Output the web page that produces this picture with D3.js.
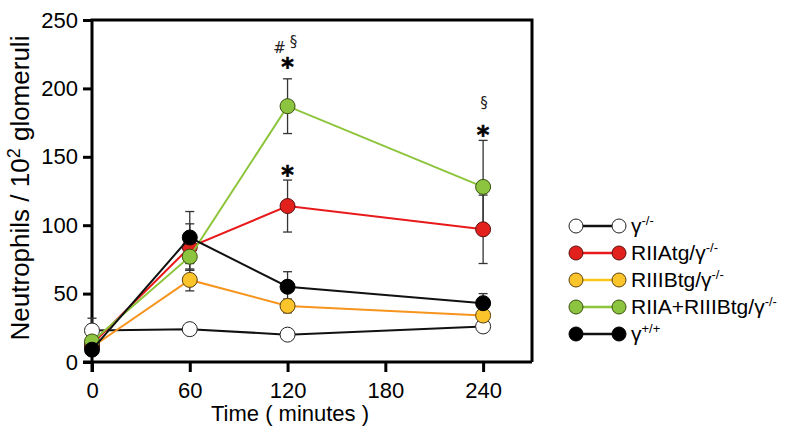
<!DOCTYPE html>
<html><head><meta charset="utf-8">
<script src="https://cdn.jsdelivr.net/npm/d3@7"></script>
<style>body{margin:0;background:#fff}svg{display:block;font-family:"Liberation Sans",Arial,Helvetica,sans-serif}</style>
</head><body><svg id="c" width="800" height="434"></svg>
<script>
const times = [0, 60, 120, 240];
const xTicks = [0, 60, 120, 180, 240];
const yTicks = [0, 50, 100, 150, 200, 250];
const seriesNames = ["γ-/-", "RIIAtg/γ-/-", "RIIIBtg/γ-/-", "RIIA+RIIIBtg/γ-/-", "γ+/+"];
const whiteVals = [23, 24, 20, 26];
const whiteErr = [9, 2, 2, 2];
const redVals = [13, 84, 114, 97];
const redErr = [2, 17, 19, 25];
const orangeVals = [11, 60, 41, 34];
const orangeErr = [2, 8, 5, 3];
const greenVals = [15, 77, 187, 128];
const greenErr = [2, 10, 20, 34];
const blackVals = [9, 91, 55, 43];
const blackErr = [2, 19, 11, 7];
const annotations = [
  {t:120, v:210, text:"*"},
  {t:120, v:131, text:"*"},
  {t:240, v:160, text:"*"}
];
const marks = [
  {t:120, v:226, text:"#", dx:-8},
  {t:120, v:230, text:"§", dx:6},
  {t:240, v:186, text:"§", dx:1}
];

const styles = [
  {line:"#111", fill:"#ffffff", stroke:"#222"},
  {line:"#e8191b", fill:"#e3211c", stroke:"#5a1010"},
  {line:"#f7941d", fill:"#fcc42b", stroke:"#5a4010", legLine:"#ffc51a"},
  {line:"#8cc43a", fill:"#8cc43f", stroke:"#3a5010"},
  {line:"#111", fill:"#000000", stroke:"#000"}
];
const allVals = [whiteVals, redVals, orangeVals, greenVals, blackVals];
const allErr = [whiteErr, redErr, orangeErr, greenErr, blackErr];

const svg = d3.select("#c");
const x = d3.scaleLinear().domain([0, 270]).range([92, 532]);
const y = d3.scaleLinear().domain([0, 250]).range([362, 20]);

// frame
svg.append("path").attr("d", `M${x(0)},${y(0)+10}V${y(250)}H${x(270)}V${y(0)}`)
  .attr("fill","none").attr("stroke","#000").attr("stroke-width",3);

const xAxis = svg.append("g").attr("transform",`translate(0,${y(0)})`)
  .call(d3.axisBottom(x).tickValues(xTicks).tickSize(10).tickPadding(10).tickSizeOuter(0));
xAxis.select(".domain").attr("d",`M${x(0)-9},0H${x(270)}`).attr("stroke-width",3);
xAxis.selectAll(".tick line").attr("stroke-width",3);
xAxis.selectAll("text").attr("font-size",22).attr("fill","#000").attr("font-family","Liberation Sans, Arial, sans-serif");

const yAxis = svg.append("g").attr("transform",`translate(${x(0)},0)`)
  .call(d3.axisLeft(y).tickValues(yTicks).tickSize(9).tickPadding(5).tickSizeOuter(0));
yAxis.select(".domain").remove();
yAxis.selectAll(".tick line").attr("stroke-width",3);
yAxis.selectAll("text").attr("font-size",22).attr("fill","#000").attr("font-family","Liberation Sans, Arial, sans-serif");

svg.append("text").attr("x",290).attr("y",421).attr("text-anchor","middle")
  .attr("font-size",22).text("Time ( minutes )");

const yl = svg.append("text").attr("transform","translate(29,188) rotate(-90)")
  .attr("text-anchor","middle").attr("font-size",26);
yl.append("tspan").text("Neutrophils / 10");
yl.append("tspan").attr("dy",-9).attr("font-size",18).text("2");
yl.append("tspan").attr("dy",9).text(" glomeruli");

const line = d3.line().x((d,i)=>x(times[i])).y(d=>y(d));
const order = [0, 2, 1, 3, 4];
// error bars
order.forEach(s=>{
  const g = svg.append("g").attr("stroke","#333").attr("stroke-width",1.3);
  allVals[s].forEach((v,i)=>{
    const e = allErr[s][i];
    const cx = x(times[i]);
    g.append("line").attr("x1",cx).attr("x2",cx).attr("y1",y(v+e)).attr("y2",y(v-e));
    g.append("line").attr("x1",cx-4.5).attr("x2",cx+4.5).attr("y1",y(v+e)).attr("y2",y(v+e));
    g.append("line").attr("x1",cx-4.5).attr("x2",cx+4.5).attr("y1",y(v-e)).attr("y2",y(v-e));
  });
});
order.forEach(s=>{
  svg.append("path").attr("d",line(allVals[s])).attr("fill","none")
    .attr("stroke",styles[s].line).attr("stroke-width",2);
  svg.append("g").selectAll("circle").data(allVals[s]).join("circle")
    .attr("cx",(d,i)=>x(times[i])).attr("cy",d=>y(d)).attr("r",7.5)
    .attr("fill",styles[s].fill).attr("stroke",styles[s].stroke).attr("stroke-width",1);
});

annotations.forEach(a=>{
  svg.append("text").attr("x",x(a.t)).attr("y",y(a.v)).attr("text-anchor","middle")
    .attr("font-size",24).attr("font-family","DejaVu Sans, sans-serif").attr("font-weight","bold")
    .attr("stroke","#000").attr("stroke-width",0.6).text(a.text);
});
marks.forEach(a=>{
  svg.append("text").attr("x",x(a.t)+a.dx).attr("y",y(a.v)).attr("text-anchor","middle")
    .attr("font-size",15).attr("font-family","DejaVu Sans, sans-serif").attr("fill","#222").text(a.text);
});

// legend
const lg = svg.append("g");
seriesNames.forEach((name,i)=>{
  const yy = 226 + i*27;
  lg.append("line").attr("x1",576).attr("x2",619).attr("y1",yy).attr("y2",yy)
    .attr("stroke",styles[i].legLine||styles[i].line).attr("stroke-width",2.5);
  [576,619].forEach(cx=>lg.append("circle").attr("cx",cx).attr("cy",yy).attr("r",7)
    .attr("fill",styles[i].fill).attr("stroke",styles[i].stroke).attr("stroke-width",1));
  const m = name.match(/^(.*γ)(.*)$/);
  const t = lg.append("text").attr("x",631).attr("y",yy+7).attr("font-size",21);
  t.append("tspan").text(m[1]);
  t.append("tspan").attr("dy",-8).attr("font-size",13).text(m[2]);
});
</script></body></html>
